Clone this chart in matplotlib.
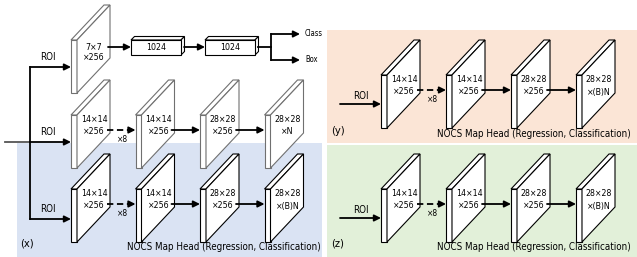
import matplotlib.pyplot as plt
from matplotlib.patches import Polygon, Rectangle

# labels of the feature maps (two text lines per map)
top_map = ("7×7", "×256")
fc_sizes = ["1024", "1024"]
fc_outputs = ["Class", "Box"]
mask_maps = [("14×14", "×256"), ("14×14", "×256"), ("28×28", "×256"), ("28×28", "×N")]
nocs_maps = [("14×14", "×256"), ("14×14", "×256"), ("28×28", "×256"), ("28×28", "×(B)N")]
repeat_label = "×8"
roi_label = "ROI"
head_title = "NOCS Map Head (Regression, Classification)"
panel_tags = ["(x)", "(y)", "(z)"]
panel_colors = ["#dae3f3", "#fbe5d6", "#e2f0d9"]

W, H = 637, 257
fig = plt.figure(figsize=(W / 100, H / 100), dpi=100)
ax = fig.add_axes([0, 0, 1, 1])
ax.set_xlim(0, W)
ax.set_ylim(H, 0)
ax.axis("off")

FONT = dict(family="DejaVu Sans", fontstretch="condensed")

# panel backgrounds
ax.add_patch(Rectangle((17, 143), 305, 114, color=panel_colors[0], lw=0, zorder=0))
ax.add_patch(Rectangle((327, 30), 310, 113, color=panel_colors[1], lw=0, zorder=0))
ax.add_patch(Rectangle((327, 145), 310, 112, color=panel_colors[2], lw=0, zorder=0))


def arrow(x1, y1, x2, y2, dashed=False, color="black"):
    if dashed:
        ax.plot([x1, x2 - 6], [y1, y2], color=color, lw=1.3, ls=(0, (3.5, 2)), zorder=3)
        x1 = x2 - 7
    ax.annotate("", xy=(x2, y2), xytext=(x1, y1),
                arrowprops=dict(arrowstyle="-|>", color=color, lw=1.3,
                                mutation_scale=9.5, shrinkA=0, shrinkB=0),
                zorder=3)


def block(x0, yt, lines, color="black", dy1=5, dy2=17):
    w, h, dx, dy = 6, 53, 33, 35
    kw = dict(facecolor="white", edgecolor=color, lw=0.8, zorder=2, joinstyle="miter")
    ax.add_patch(Polygon([(x0, yt), (x0 + w, yt), (x0 + w, yt + h), (x0, yt + h)], **kw))
    ax.add_patch(Polygon([(x0, yt), (x0 + dx, yt - dy), (x0 + dx + w, yt - dy), (x0 + w, yt)], **kw))
    ax.add_patch(Polygon([(x0 + w, yt), (x0 + w + dx, yt - dy), (x0 + w + dx, yt - dy + h),
                          (x0 + w, yt + h)], **kw))
    cx = x0 + 23
    ax.text(cx, yt + dy1, lines[0], ha="center", va="center", fontsize=6.3, zorder=4, **FONT)
    ax.text(cx, yt + dy2, lines[1], ha="center", va="center", fontsize=6.3, zorder=4, **FONT)


def head_row(xs, yt, maps, color="black"):
    for i, (x0, lab) in enumerate(zip(xs, maps)):
        block(x0, yt, lab, color)
        if i + 1 < len(xs):
            arrow(x0 + 36, yt + 15, xs[i + 1], yt + 15, dashed=(i == 0))
    ax.text(xs[0] + 52, yt + 24, repeat_label, ha="center", va="center", fontsize=6, zorder=4, **FONT)


xs_left = [71, 135.5, 200, 264.5]
xs_right = [381, 446, 511, 576]
grey = "#707070"

# box head: 7x7 map -> two fc layers -> class / box
block(71, 40, top_map, grey, dy1=7, dy2=18)
fc_x = [131, 205]
for i, (fx, lab) in enumerate(zip(fc_x, fc_sizes)):
    d = 3.5
    kw = dict(facecolor="white", edgecolor="black", lw=0.8, zorder=2)
    ax.add_patch(Polygon([(fx, 40), (fx + d, 40 - d), (fx + 50 + d, 40 - d), (fx + 50, 40)], **kw))
    ax.add_patch(Polygon([(fx + 50, 40), (fx + 50 + d, 40 - d), (fx + 50 + d, 55 - d), (fx + 50, 55)], **kw))
    ax.add_patch(Rectangle((fx, 40), 50, 15, **kw))
    ax.text(fx + 25, 47.5, lab, ha="center", va="center", fontsize=6.3, zorder=4, **FONT)
arrow(108, 47, fc_x[0], 47)
arrow(fc_x[0] + 53, 47, fc_x[1], 47)
ax.plot([fc_x[1] + 53, 271], [47, 47], color="black", lw=1.3)
ax.plot([271, 271], [34, 60], color="black", lw=1.3)
for yy, lab in zip([34, 60], fc_outputs):
    arrow(271, yy, 300, yy)
    ax.text(305, yy, lab, ha="left", va="center", fontsize=5.5, **FONT)

# mask head (middle row) and NOCS head of panel (x)
head_row(xs_left, 115, mask_maps, grey)
head_row(xs_left, 189, nocs_maps)

# ROI connections on the left
ax.plot([5, 30], [142, 142], color="#555555", lw=1.3, zorder=3)
ax.plot([30, 30], [67, 219], color="black", lw=1.3, zorder=3)
for yy in [67, 142, 219]:
    arrow(30, yy, 71, yy)
    ax.text(48, yy - 10, roi_label, ha="center", va="center", fontsize=7, **FONT)

# panels (y) and (z)
for yt in [75, 189]:
    head_row(xs_right, yt, nocs_maps)
    arrow(340, yt + 29, xs_right[0], yt + 29)
    ax.text(361, yt + 21, roi_label, ha="center", va="center", fontsize=7, **FONT)

# panel tags and titles
for tag, (tx, ty), (hx, hy) in zip(panel_tags,
                                   [(20, 244), (331, 131), (331, 244)],
                                   [(224, 247), (534, 134), (534, 247)]):
    ax.text(tx, ty, tag, ha="left", va="center", fontsize=8, **FONT)
    ax.text(hx, hy, head_title, ha="center", va="center", fontsize=7, **FONT)

fig.savefig("out.png", dpi=100)
